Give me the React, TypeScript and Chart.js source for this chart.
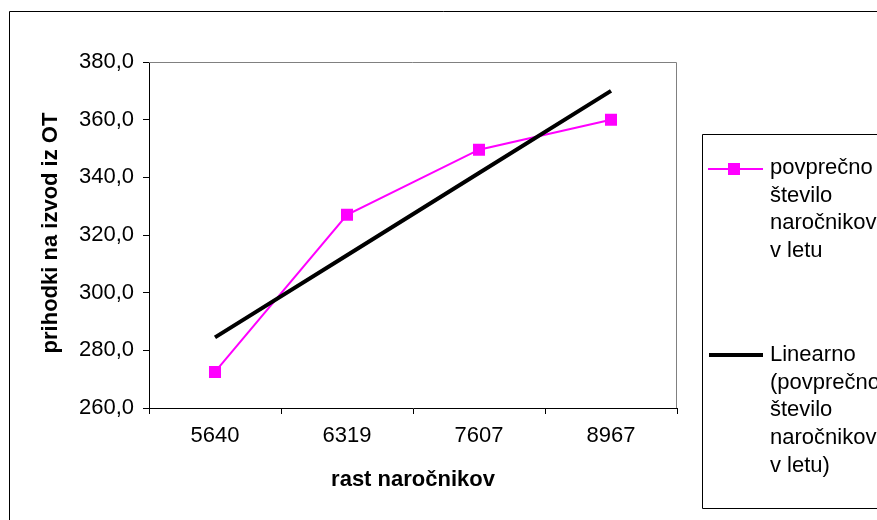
import React, { useEffect, useRef } from "react";
import { Chart, registerables } from "chart.js";

Chart.register(...registerables);

// Subscriber growth categories and average income per issue
const categories = ["5640", "6319", "7607", "8967"];
const incomeValues = [272.5, 327.0, 349.6, 360.0];
// Linear trend of the income series at each category
const trendValues = [284.5, 313.0, 341.5, 370.0];

const yMin = 260;
const yMax = 380;
const yStep = 20;

const seriesLabel = ["povprečno", "število", "naročnikov", "v letu"];
const trendLabel = ["Linearno", "(povprečno", "število", "naročnikov", "v letu)"];
const xTitle = "rast naročnikov";
const yTitle = "prihodki na izvod iz OT";

const FONT = '"Liberation Sans", Arial, sans-serif';
const MAGENTA = "#FF00FF";

const W = 877;
const H = 520;

const frame = {
  id: "frame",
  afterDraw(chart: any) {
    const ctx = chart.ctx as CanvasRenderingContext2D;
    const area = chart.chartArea;
    ctx.save();

    // outer chart border
    ctx.strokeStyle = "#000";
    ctx.lineWidth = 1;
    ctx.beginPath();
    ctx.moveTo(9.5, H + 5);
    ctx.lineTo(9.5, 11.5);
    ctx.lineTo(W + 5, 11.5);
    ctx.stroke();

    // plot area top/right edge
    ctx.strokeStyle = "#808080";
    ctx.beginPath();
    ctx.moveTo(area.left, area.top + 0.5);
    ctx.lineTo(area.right - 0.5, area.top + 0.5);
    ctx.lineTo(area.right - 0.5, area.bottom);
    ctx.stroke();

    // axis titles
    ctx.fillStyle = "#000";
    ctx.font = `bold 22px ${FONT}`;
    ctx.textAlign = "center";
    ctx.textBaseline = "middle";
    ctx.fillText(xTitle, (area.left + area.right) / 2, 480);
    ctx.save();
    ctx.translate(51, 233);
    ctx.rotate(-Math.PI / 2);
    ctx.fillText(yTitle, 0, 0);
    ctx.restore();

    // legend box
    ctx.strokeStyle = "#000";
    ctx.lineWidth = 1;
    ctx.beginPath();
    ctx.moveTo(W + 5, 134.5);
    ctx.lineTo(702.5, 134.5);
    ctx.lineTo(702.5, 508.5);
    ctx.lineTo(W + 5, 508.5);
    ctx.stroke();

    // legend entry 1: magenta line with square marker
    ctx.strokeStyle = MAGENTA;
    ctx.lineWidth = 2;
    ctx.beginPath();
    ctx.moveTo(708, 169);
    ctx.lineTo(763, 169);
    ctx.stroke();
    ctx.fillStyle = MAGENTA;
    ctx.fillRect(728, 163, 12, 12);

    // legend entry 2: black trend line
    ctx.strokeStyle = "#000";
    ctx.lineWidth = 4;
    ctx.beginPath();
    ctx.moveTo(709, 355);
    ctx.lineTo(763, 355);
    ctx.stroke();

    ctx.fillStyle = "#000";
    ctx.font = `22px ${FONT}`;
    ctx.textAlign = "left";
    ctx.textBaseline = "middle";
    seriesLabel.forEach((t, i) => ctx.fillText(t, 770, 168 + i * 27.7));
    trendLabel.forEach((t, i) => ctx.fillText(t, 770, 355 + i * 27.7));

    ctx.restore();
  },
};

export default function App() {
  const ref = useRef<HTMLCanvasElement | null>(null);

  useEffect(() => {
    if (!ref.current) return;
    const chart = new Chart(ref.current, {
      type: "line",
      data: {
        labels: categories,
        datasets: [
          {
            label: "povprečno število naročnikov v letu",
            data: incomeValues,
            borderColor: MAGENTA,
            backgroundColor: MAGENTA,
            borderWidth: 2,
            pointStyle: "rect",
            pointRadius: 8.5,
            pointBorderWidth: 0,
            pointBackgroundColor: MAGENTA,
            pointBorderColor: MAGENTA,
            order: 1,
          },
          {
            label: "Linearno (povprečno število naročnikov v letu)",
            data: trendValues,
            borderColor: "#000",
            borderWidth: 4,
            pointRadius: 0,
            order: 0,
          },
        ],
      },
      options: {
        responsive: false,
        animation: false,
        layout: { padding: { left: 0, top: 62, right: 200, bottom: 0 } },
        plugins: {
          legend: { display: false },
          tooltip: { enabled: false },
        },
        scales: {
          x: {
            type: "category",
            offset: true,
            grid: {
              offset: true,
              drawOnChartArea: false,
              drawTicks: true,
              tickLength: 6,
              color: "#000",
            },
            border: { color: "#000", width: 1 },
            ticks: {
              color: "#000",
              font: { family: FONT, size: 22 },
              padding: 9,
              maxRotation: 0,
            },
            afterFit(scale: any) {
              scale.height = 112;
            },
          },
          y: {
            min: yMin,
            max: yMax,
            grid: {
              drawOnChartArea: false,
              drawTicks: true,
              tickLength: 6,
              color: "#000",
            },
            border: { color: "#000", width: 1 },
            ticks: {
              stepSize: yStep,
              color: "#000",
              font: { family: FONT, size: 22 },
              padding: 9,
              callback: (v: any) => Number(v).toFixed(1).replace(".", ","),
            },
            afterFit(scale: any) {
              scale.width = 149;
            },
          },
        },
      },
      plugins: [frame],
    });
    return () => chart.destroy();
  }, []);

  return (
    <div style={{ position: "fixed", left: 0, top: 0, width: W, height: H, background: "#fff" }}>
      <canvas ref={ref} width={W} height={H} style={{ display: "block" }} />
    </div>
  );
}
